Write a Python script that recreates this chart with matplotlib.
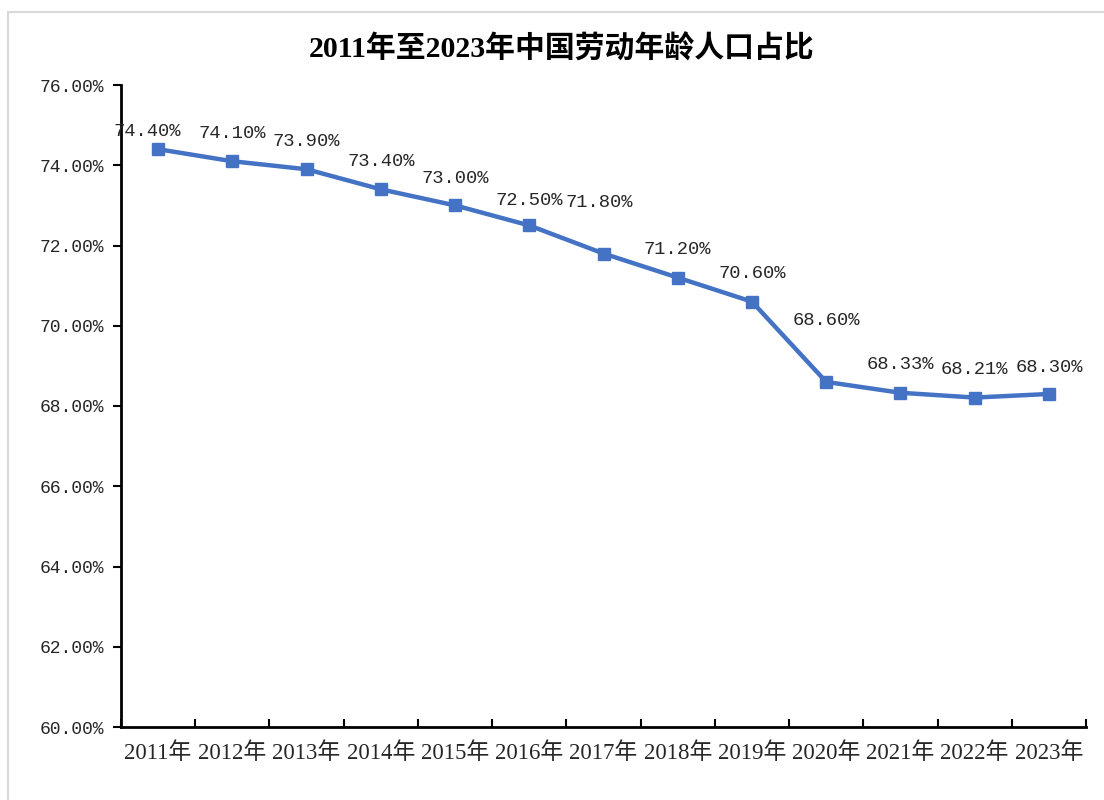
import matplotlib.pyplot as plt
from matplotlib.patches import Rectangle
from matplotlib.ticker import FuncFormatter, MultipleLocator

years = ['2011年', '2012年', '2013年', '2014年', '2015年', '2016年', '2017年',
         '2018年', '2019年', '2020年', '2021年', '2022年', '2023年']
ratio = [74.40, 74.10, 73.90, 73.40, 73.00, 72.50, 71.80,
         71.20, 70.60, 68.60, 68.33, 68.21, 68.30]

# label offsets in points (Excel moved a few of them)
label_dx = [-8, 0, 0, 0, 0, 0, -3, 0, 0, 0, 0, 0, 0]
label_dy = [13, 20, 20, 20, 19, 18, 37, 20, 20, 44, 20, 20, 19]

serif = ['Liberation Serif', 'Noto Sans CJK SC']
mono = ['Liberation Mono', 'Noto Sans CJK SC']

fig = plt.figure(figsize=(11.04, 8), dpi=100)
ax = fig.add_axes([0.1096, 0.09125, 0.8741, 0.8025])

x = list(range(len(years)))
ax.plot(x, ratio, color='#4472C4', linewidth=3.2, marker='s', markersize=8.5)

for i, v in enumerate(ratio):
    ax.annotate(f'{v:.2f}%', (i, v), xytext=(label_dx[i], label_dy[i]),
                textcoords='offset points', ha='center', va='center',
                fontsize=13.5, family=mono, color='#262626')

ax.set_xlim(-0.5, len(years) - 0.5)
ax.set_ylim(60, 76)
ax.yaxis.set_major_locator(MultipleLocator(2))
ax.yaxis.set_major_formatter(FuncFormatter(lambda v, p: f'{v:.2f}%'))
ax.set_xticks(x)
ax.set_xticklabels(years, family=serif, fontsize=16.5, color='#262626')
ax.set_xticks([i - 0.5 for i in range(len(years) + 1)], minor=True)
ax.tick_params(axis='x', which='major', length=0, pad=11)
ax.tick_params(axis='x', which='minor', length=6, width=1.5, direction='in')
ax.tick_params(axis='y', length=6, width=1.5, direction='out', pad=6)
for lab in ax.get_yticklabels():
    lab.set_family(mono)
    lab.set_fontsize(13)
    lab.set_color('#262626')

ax.spines['top'].set_visible(False)
ax.spines['right'].set_visible(False)
ax.spines['left'].set_linewidth(2)
ax.spines['bottom'].set_linewidth(2)

fig.text(0.509, 0.939, '2011年至2023年中国劳动年龄人口占比', ha='center', va='center',
         fontsize=21.5, fontweight='bold', family=serif)

fig.patches.append(Rectangle((8 / 1104, -0.1), 1.2, (788 / 800) + 0.1,
                             transform=fig.transFigure, fill=False,
                             edgecolor='#d9d9d9', linewidth=1.5))

fig.savefig('out.png', dpi=100)
